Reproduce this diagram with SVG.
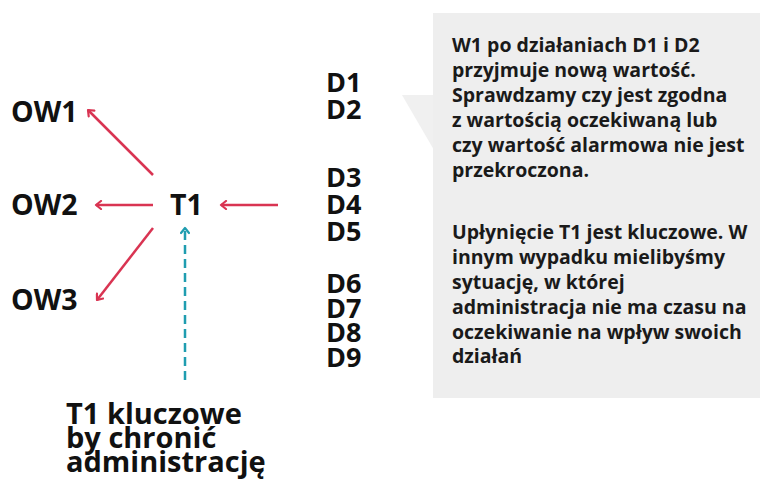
<svg xmlns="http://www.w3.org/2000/svg" width="760" height="481" viewBox="0 0 760 481">
  <style>
    .lbl { font-family: "Open Sans", "Liberation Sans", sans-serif; font-weight: 700; fill: #111; }
    .big { font-size: 28.5px; }
    .foot { font-size: 29px; }
    .d { font-size: 27px; }
    .note { font-family: "Open Sans", "Liberation Sans", sans-serif; font-weight: 700; font-size: 19.5px; fill: #1a1a1a; }
    .red { stroke: #d93452; stroke-width: 2.5; fill: none; marker-end: url(#headRed); }
    .teal { stroke: #1f9db0; stroke-width: 2.5; fill: none; stroke-dasharray: 9 5; marker-end: url(#headTeal); }
  </style>
  <defs>
    <marker id="headRed" viewBox="0 0 10 10" refX="8" refY="5" markerWidth="4" markerHeight="4" orient="auto" markerUnits="strokeWidth">
      <path d="M3,1 L8,5 L3,9" fill="none" stroke="#d93452" stroke-width="2.2" stroke-linecap="round" stroke-linejoin="round"/>
    </marker>
    <marker id="headTeal" viewBox="0 0 10 10" refX="8" refY="5" markerWidth="4" markerHeight="4" orient="auto" markerUnits="strokeWidth">
      <path d="M3,1 L8,5 L3,9" fill="none" stroke="#1f9db0" stroke-width="2.2" stroke-linecap="round" stroke-linejoin="round"/>
    </marker>
  </defs>
  <rect width="760" height="481" fill="#ffffff"/>

  <!-- callout with pointer -->
  <g id="callout">
    <polygon points="402,95 434,95 434,150" fill="#f0f0f0"/>
    <rect x="433" y="13" width="327" height="385" fill="#eeeeee"/>
    <text class="note">
      <tspan x="452" y="52">W1 po działaniach D1 i D2</tspan>
      <tspan x="452" y="77">przyjmuje nową wartość.</tspan>
      <tspan x="452" y="102">Sprawdzamy czy jest zgodna</tspan>
      <tspan x="452" y="127">z wartością oczekiwaną lub</tspan>
      <tspan x="452" y="152">czy wartość alarmowa nie jest</tspan>
      <tspan x="452" y="177">przekroczona.</tspan>
      <tspan x="452" y="239">Upłynięcie T1 jest kluczowe. W</tspan>
      <tspan x="452" y="264">innym wypadku mielibyśmy</tspan>
      <tspan x="452" y="289">sytuację, w której</tspan>
      <tspan x="452" y="314">administracja nie ma czasu na</tspan>
      <tspan x="452" y="339">oczekiwanie na wpływ swoich</tspan>
      <tspan x="452" y="363">działań</tspan>
    </text>
  </g>

  <g id="ow1"><text class="lbl big" x="11" y="122">OW1</text></g>
  <g id="ow2"><text class="lbl big" x="11" y="215">OW2</text></g>
  <g id="ow3"><text class="lbl big" x="11" y="310">OW3</text></g>
  <g id="t1"><text class="lbl big" x="170" y="215">T1</text></g>

  <g id="actions">
    <text class="lbl d">
      <tspan x="326" y="92">D1</tspan>
      <tspan x="326" y="119">D2</tspan>
      <tspan x="326" y="187">D3</tspan>
      <tspan x="326" y="214">D4</tspan>
      <tspan x="326" y="241">D5</tspan>
      <tspan x="326" y="293">D6</tspan>
      <tspan x="326" y="318">D7</tspan>
      <tspan x="326" y="342">D8</tspan>
      <tspan x="326" y="367">D9</tspan>
    </text>
  </g>

  <g id="note-t1">
    <text class="lbl foot">
      <tspan x="66" y="424">T1 kluczowe</tspan>
      <tspan x="66" y="448">by chronić</tspan>
      <tspan x="66" y="472">administrację</tspan>
    </text>
  </g>

  <g id="connectors">
    <line class="red" x1="153" y1="175" x2="88" y2="110"/>
    <line class="red" x1="153" y1="205" x2="96" y2="205"/>
    <line class="red" x1="153" y1="228" x2="97" y2="300"/>
    <line class="red" x1="278" y1="205" x2="221" y2="205"/>
    <line class="teal" x1="185" y1="380" x2="185" y2="228"/>
  </g>
</svg>
